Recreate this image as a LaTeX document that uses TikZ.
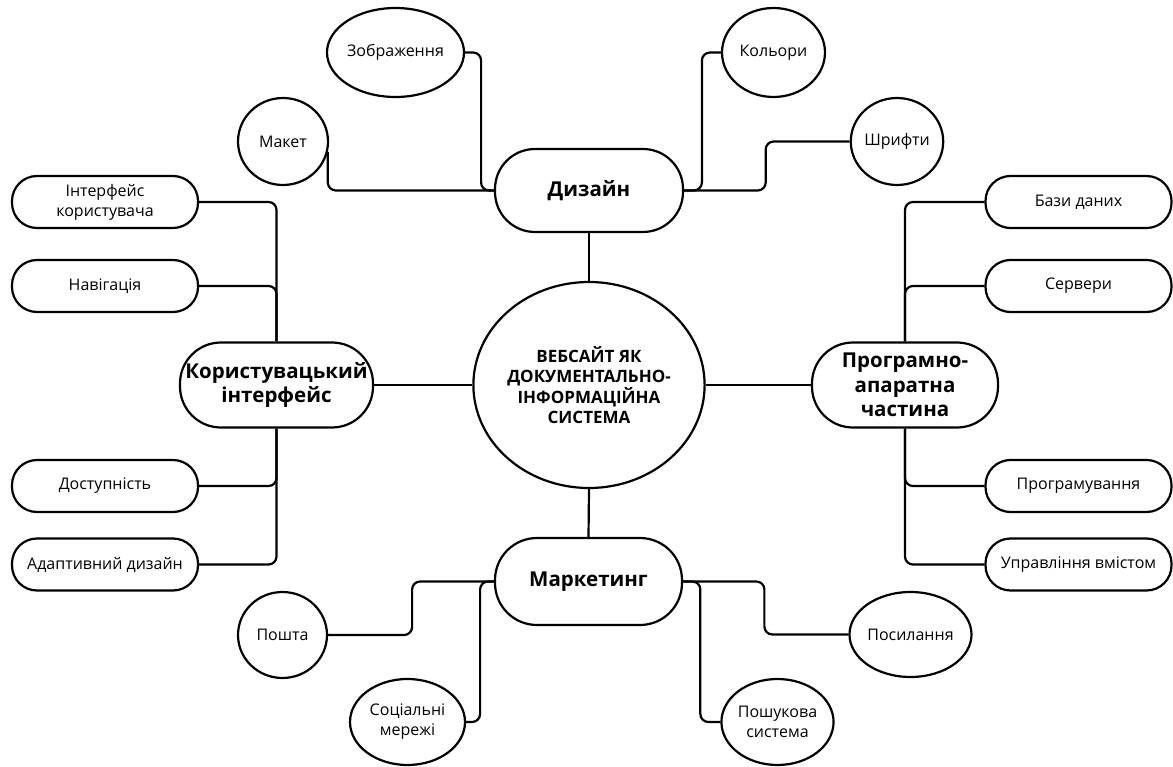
\documentclass[tikz,border=0pt]{standalone}
\usepackage{fontspec}
\setmainfont{Open Sans}
\usetikzlibrary{shapes.geometric}
\begin{document}
\begin{tikzpicture}[x=1pt,y=-1pt,
  conn/.style={line width=2.2pt, rounded corners=8pt},
  oval/.style={ellipse, draw, line width=2.2pt, inner sep=0pt, align=center, font=\fontsize{16}{20}\selectfont},
  pill/.style={rectangle, rounded corners=25pt, draw, line width=2.2pt, inner sep=0pt, minimum width=186pt, minimum height=52pt, align=center, font=\fontsize{16}{20}\selectfont},
  head/.style={rectangle, draw, line width=2.2pt, inner sep=0pt, align=center, font=\bfseries\fontsize{20.5}{24.5}\selectfont},
]
\useasboundingbox (0,0) rectangle (1173,767);

% centre
\node[ellipse, draw, line width=2.2pt, minimum width=228pt, minimum height=206pt, inner sep=0pt, align=center,
      font=\bfseries\fontsize{17}{20.5}\selectfont] (c) at (589,385)
      {ВЕБСАЙТ ЯК\\ДОКУМЕНТАЛЬНО-\\ІНФОРМАЦІЙНА\\СИСТЕМА};

% main branches
\node[head, rounded corners=40pt, minimum width=188pt, minimum height=83pt] (diz) at (589,190.5) {Дизайн};
\node[head, rounded corners=41pt, minimum width=193pt, minimum height=85pt] (ui) at (276.5,385) {Користувацький\\інтерфейс};
\node[head, rounded corners=41pt, minimum width=186pt, minimum height=85pt] (hw) at (905,385) {Програмно-\\апаратна\\частина};
\node[head, rounded corners=42pt, minimum width=187pt, minimum height=87pt] (mark) at (588.5,581.5) {Маркетинг};

% design children
\node[oval, minimum width=137pt, minimum height=89pt] (zob) at (395.5,52.5) {Зображення};
\node[oval, minimum width=90pt, minimum height=87pt] (mak) at (283,141.5) {Макет};
\node[oval, minimum width=103pt, minimum height=89pt] (kol) at (773.5,52.5) {Кольори};
\node[oval, minimum width=92pt, minimum height=87pt] (shr) at (897,141.5) {Шрифти};

% UI children
\node[pill] (ui1) at (105,202) {Інтерфейс\\користувача};
\node[pill] (ui2) at (105,286) {Навігація};
\node[pill] (ui3) at (105,486) {Доступність};
\node[pill] (ui4) at (105,564.5) {Адаптивний дизайн};

% hardware children
\node[pill] (hw1) at (1078.5,202) {Бази даних};
\node[pill] (hw2) at (1078.5,286) {Сервери};
\node[pill] (hw3) at (1078.5,486) {Програмування};
\node[pill] (hw4) at (1078.5,564.5) {Управління вмістом};

% marketing children
\node[oval, minimum width=89pt, minimum height=86pt] (posh) at (282.5,635) {Пошта};
\node[oval, minimum width=115pt, minimum height=86pt] (soc) at (407.5,722) {Соціальні\\мережі};
\node[oval, minimum width=119pt, minimum height=85pt] (posy) at (910.5,634.5) {Посилання};
\node[oval, minimum width=109pt, minimum height=86pt] (poshuk) at (777.5,722) {Пошукова\\система};

% connectors
\draw[conn] (c.north) -- (diz.south);
\draw[conn] (c.south) -- (mark.north);
\draw[conn] (c.west) -- (ui.east);
\draw[conn] (c.east) -- (hw.west);

\draw[conn] (zob.east) -- ++(16,0) |- (diz.west);
\draw[conn] (mak.-13.5) |- (diz.west);
\draw[conn] (kol.west) -- ++(-19,0) |- (diz.east);
\draw[conn] (shr.west) -- ++(-84,0) |- (diz.east);

\draw[conn] (ui.north) |- (ui1.east);
\draw[conn] (ui.north) |- (ui2.east);
\draw[conn] (ui.south) |- (ui3.east);
\draw[conn] (ui.south) |- (ui4.east);

\draw[conn] (hw.north) |- (hw1.west);
\draw[conn] (hw.north) |- (hw2.west);
\draw[conn] (hw.south) |- (hw3.west);
\draw[conn] (hw.south) |- (hw4.west);

\draw[conn] (posh.east) -- ++(84,0) |- (mark.west);
\draw[conn] (soc.east) -- ++(14,0) |- (mark.west);
\draw[conn] (posy.west) -- ++(-84,0) |- (mark.east);
\draw[conn] (poshuk.west) -- ++(-20,0) |- (mark.east);
\end{tikzpicture}
\end{document}
